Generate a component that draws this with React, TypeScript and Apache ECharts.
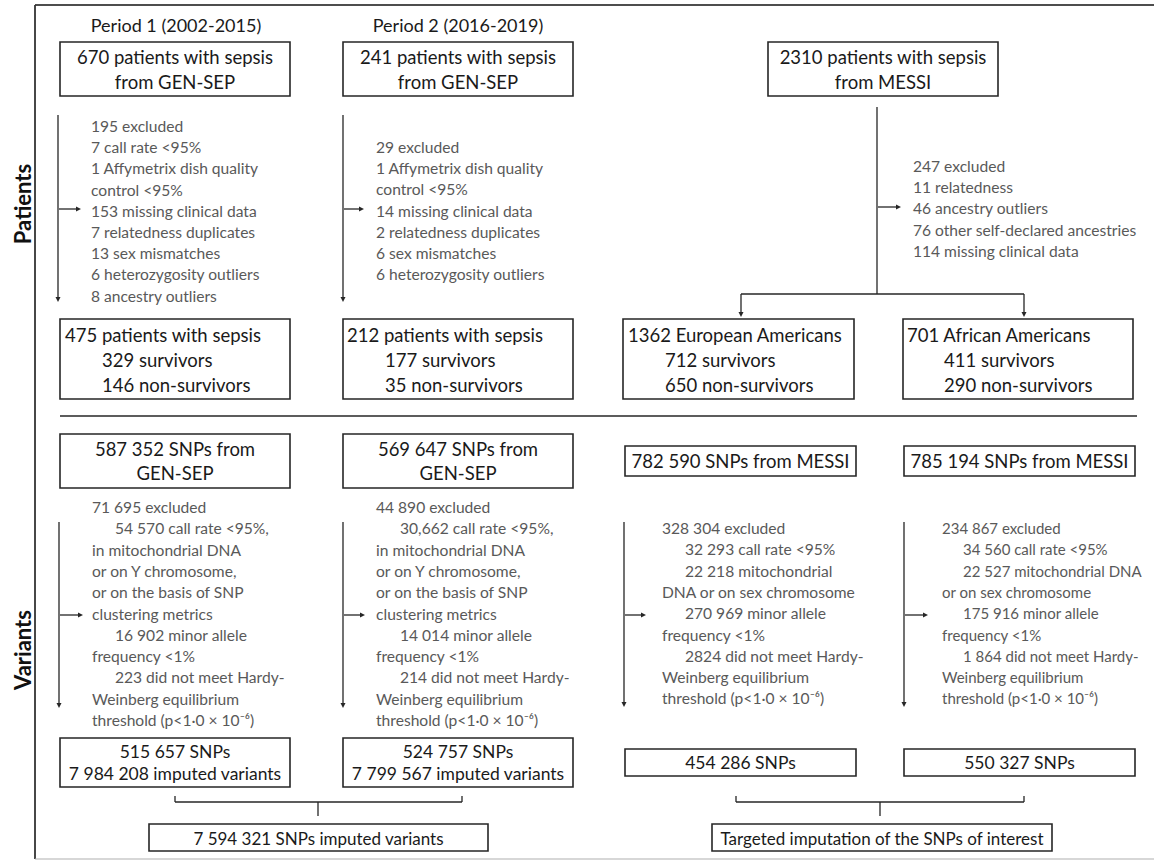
import React, { useEffect, useRef } from "react";
import * as echarts from "echarts";

// ---------- data ----------
const periodLabels = ["Period 1 (2002-2015)", "Period 2 (2016-2019)"];
const rowLabels = ["Patients", "Variants"];

const sourceBoxes = [
  ["670 patients with sepsis", "from GEN-SEP"],
  ["241 patients with sepsis", "from GEN-SEP"],
  ["2310 patients with sepsis", "from MESSI"],
];

const patientExclusionsP1 = [
  "195 excluded",
  "7 call rate <95%",
  "1 Affymetrix dish quality",
  "control <95%",
  "153 missing clinical data",
  "7 relatedness duplicates",
  "13 sex mismatches",
  "6 heterozygosity outliers",
  "8 ancestry outliers",
];
const patientExclusionsP2 = [
  "29 excluded",
  "1 Affymetrix dish quality",
  "control <95%",
  "14 missing clinical data",
  "2 relatedness duplicates",
  "6 sex mismatches",
  "6 heterozygosity outliers",
];
const patientExclusionsMessi = [
  "247 excluded",
  "11 relatedness",
  "46 ancestry outliers",
  "76 other self-declared ancestries",
  "114 missing clinical data",
];

const cohortBoxes = [
  ["475 patients with sepsis", "329 survivors", "146 non-survivors"],
  ["212 patients with sepsis", "177 survivors", "35 non-survivors"],
  ["1362 European Americans", "712 survivors", "650 non-survivors"],
  ["701 African Americans", "411 survivors", "290 non-survivors"],
];

const snpSourceBoxes = [
  ["587 352 SNPs from", "GEN-SEP"],
  ["569 647 SNPs from", "GEN-SEP"],
  ["782 590 SNPs from MESSI"],
  ["785 194 SNPs from MESSI"],
];

const variantExclusionsP1 = [
  "71 695 excluded",
  "54 570 call rate <95%,",
  "in mitochondrial DNA",
  "or on Y chromosome,",
  "or on the basis of SNP",
  "clustering metrics",
  "16 902 minor allele",
  "frequency <1%",
  "223 did not meet Hardy-",
  "Weinberg equilibrium",
  "threshold (p<1·0 × 10⁻⁶)",
];
const variantExclusionsP2 = [
  "44 890 excluded",
  "30,662 call rate <95%,",
  "in mitochondrial DNA",
  "or on Y chromosome,",
  "or on the basis of SNP",
  "clustering metrics",
  "14 014 minor allele",
  "frequency <1%",
  "214 did not meet Hardy-",
  "Weinberg equilibrium",
  "threshold (p<1·0 × 10⁻⁶)",
];
const variantExclusionsEA = [
  "328 304 excluded",
  "32 293 call rate <95%",
  "22 218 mitochondrial",
  "DNA or on sex chromosome",
  "270 969 minor allele",
  "frequency <1%",
  "2824 did not meet Hardy-",
  "Weinberg equilibrium",
  "threshold (p<1·0 × 10⁻⁶)",
];
const variantExclusionsAA = [
  "234 867 excluded",
  "34 560 call rate <95%",
  "22 527 mitochondrial DNA",
  "or on sex chromosome",
  "175 916 minor allele",
  "frequency <1%",
  "1 864 did not meet Hardy-",
  "Weinberg equilibrium",
  "threshold (p<1·0 × 10⁻⁶)",
];

const snpResultBoxes = [
  ["515 657 SNPs", "7 984 208 imputed variants"],
  ["524 757 SNPs", "7 799 567 imputed variants"],
  ["454 286 SNPs"],
  ["550 327 SNPs"],
];

const finalBoxes = ["7 594 321 SNPs imputed variants", "Targeted imputation of the SNPs of interest"];

// ---------- drawing helpers ----------
const FONT = "Lato, 'Open Sans', sans-serif";
const BOX_FS = 18;
const GREY_FS = 15.6;
const LINE_COLOR = "#262626";
const GREY = "#595959";

function txt(x: number, y: number, text: string, o: any = {}) {
  return {
    type: "text",
    x,
    y,
    rotation: o.rotation || 0,
    style: {
      text,
      fill: o.fill || "#1a1a1a",
      fontSize: o.fontSize || BOX_FS,
      fontFamily: FONT,
      fontWeight: o.fontWeight || "normal",
      align: o.align || "left",
      verticalAlign: "middle",
    },
  };
}
function rect(x1: number, y1: number, x2: number, y2: number) {
  return {
    type: "rect",
    shape: { x: x1, y: y1, width: x2 - x1, height: y2 - y1 },
    style: { fill: "none", stroke: LINE_COLOR, lineWidth: 1.6 },
  };
}
function seg(x1: number, y1: number, x2: number, y2: number, w = 1.3, c = LINE_COLOR) {
  return { type: "line", shape: { x1, y1, x2, y2 }, style: { stroke: c, lineWidth: w } };
}
function arrowDown(x: number, y1: number, y2: number) {
  return [
    seg(x, y1, x, y2 - 3),
    { type: "polygon", shape: { points: [[x - 2.5, y2 - 5], [x + 2.5, y2 - 5], [x, y2]] }, style: { fill: LINE_COLOR } },
  ];
}
function arrowRight(x1: number, x2: number, y: number) {
  return [
    seg(x1, y, x2 - 3, y),
    { type: "polygon", shape: { points: [[x2 - 5, y - 2.5], [x2 - 5, y + 2.5], [x2, y]] }, style: { fill: LINE_COLOR } },
  ];
}
function textLines(lines: string[], x: number, xIndent: number, y0: number, step: number, indented: number[], o: any = {}) {
  return lines.map((t, i) => txt(indented.includes(i) ? xIndent : x, y0 + i * step, t, o));
}

function buildGraphics() {
  const g: any[] = [];
  // frame
  g.push(seg(35, 5, 1154, 5, 2, "#4d4d4d"));
  g.push(seg(35, 5, 35, 859, 1.8, "#333"));
  g.push(seg(35, 859, 1154, 859, 1.2, "#b0b0b0"));

  // row labels (rotated)
  g.push(txt(22, 204, rowLabels[0], { rotation: Math.PI / 2, align: "center", fontSize: 22, fontWeight: "bold", fill: "#111" }));
  g.push(txt(22, 650, rowLabels[1], { rotation: Math.PI / 2, align: "center", fontSize: 22, fontWeight: "bold", fill: "#111" }));

  // period labels
  g.push(txt(176, 25, periodLabels[0], { align: "center", fontSize: 18 }));
  g.push(txt(458, 25, periodLabels[1], { align: "center", fontSize: 18 }));

  // source boxes
  const srcX = [[60, 290], [343, 573], [768, 998]];
  sourceBoxes.forEach((b, i) => {
    const [a, c] = srcX[i];
    g.push(rect(a, 42, c, 96));
    b.forEach((t, j) => g.push(txt((a + c) / 2, 57 + j * 25, t, { align: "center", fontSize: 18.5 })));
  });

  // patient exclusions
  const gs = { fill: GREY, fontSize: GREY_FS };
  g.push(...arrowDown(58, 115, 302), ...arrowRight(59, 81, 209));
  g.push(...textLines(patientExclusionsP1, 91, 91, 126, 21.2, [], gs));
  g.push(...arrowDown(343, 115, 302), ...arrowRight(344, 364, 209));
  g.push(...textLines(patientExclusionsP2, 376, 376, 147, 21.2, [], gs));
  g.push(seg(877, 107, 877, 294), ...arrowRight(878, 901, 207));
  g.push(...textLines(patientExclusionsMessi, 913, 913, 166, 21.2, [], gs));
  g.push(seg(741, 294, 1024, 294));
  g.push(...arrowDown(741, 294, 317), ...arrowDown(1024, 294, 317));

  // cohort boxes
  const cohX = [[60, 290, 65, 102], [343, 573, 347, 385], [623, 854, 628, 665], [903, 1133, 907, 944]];
  cohortBoxes.forEach((b, i) => {
    const [a, c, t1, t2] = cohX[i];
    g.push(rect(a, 319, c, 399));
    b.forEach((t, j) => g.push(txt(j === 0 ? t1 : t2, 335 + j * 25, t, { fontSize: 18.5 })));
  });

  // separator
  g.push(seg(60, 416, 1137, 416, 1.5));

  // SNP source boxes
  const snpX = [[60, 290, 434, 488], [343, 573, 434, 488], [625, 856, 446, 476], [904, 1135, 446, 476]];
  snpSourceBoxes.forEach((b, i) => {
    const [a, c, y1, y2] = snpX[i];
    g.push(rect(a, y1, c, y2));
    const ym = (y1 + y2) / 2;
    b.forEach((t, j) => g.push(txt((a + c) / 2, ym + (j - (b.length - 1) / 2) * 24, t, { align: "center", fontSize: 18.5 })));
  });

  // variant exclusions
  g.push(...arrowDown(59, 522, 708), ...arrowRight(60, 83, 615));
  g.push(...textLines(variantExclusionsP1, 92, 115, 507, 21.3, [1, 6, 8], gs));
  g.push(...arrowDown(343, 522, 708), ...arrowRight(344, 365, 615));
  g.push(...textLines(variantExclusionsP2, 376, 400, 507, 21.3, [1, 6, 8], gs));
  g.push(...arrowDown(624, 522, 707), ...arrowRight(625, 646, 615));
  g.push(...textLines(variantExclusionsEA, 662, 685, 528, 21.3, [1, 2, 4, 6], gs));
  g.push(...arrowDown(904, 522, 707), ...arrowRight(905, 928, 615));
  g.push(...textLines(variantExclusionsAA, 942, 963, 528, 21.3, [1, 2, 4, 6], { fill: GREY, fontSize: 15 }));

  // SNP result boxes
  const resX = [[60, 290, 738, 787], [343, 573, 738, 787], [625, 856, 749, 776], [904, 1135, 749, 776]];
  snpResultBoxes.forEach((b, i) => {
    const [a, c, y1, y2] = resX[i];
    g.push(rect(a, y1, c, y2));
    const ym = (y1 + y2) / 2;
    b.forEach((t, j) => g.push(txt((a + c) / 2, ym + (j - (b.length - 1) / 2) * 22, t, { align: "center", fontSize: 17.5 })));
  });

  // brackets
  const brk = [[175, 462, 318], [736, 1024, 880]];
  brk.forEach(([a, c, m]) => {
    g.push(seg(a, 796, a, 802), seg(c, 796, c, 802), seg(a, 802, c, 802), seg(m, 802, m, 816));
  });

  // final boxes
  const finX = [[149, 488], [712, 1052]];
  finalBoxes.forEach((t, i) => {
    const [a, c] = finX[i];
    g.push(rect(a, 824, c, 851));
    g.push(txt((a + c) / 2, 838, t, { align: "center", fontSize: 17 }));
  });
  return g;
}

export default function App() {
  const ref = useRef<HTMLDivElement>(null);
  useEffect(() => {
    if (!ref.current) return;
    const chart = echarts.init(ref.current, null, { renderer: "svg" });
    chart.setOption({
      animation: false,
      backgroundColor: "#ffffff",
      graphic: { elements: buildGraphics() },
    });
    return () => chart.dispose();
  }, []);
  return (
    <div
      ref={ref}
      style={{ position: "fixed", left: 0, top: 0, width: 1154, height: 860, background: "#fff" }}
    />
  );
}
